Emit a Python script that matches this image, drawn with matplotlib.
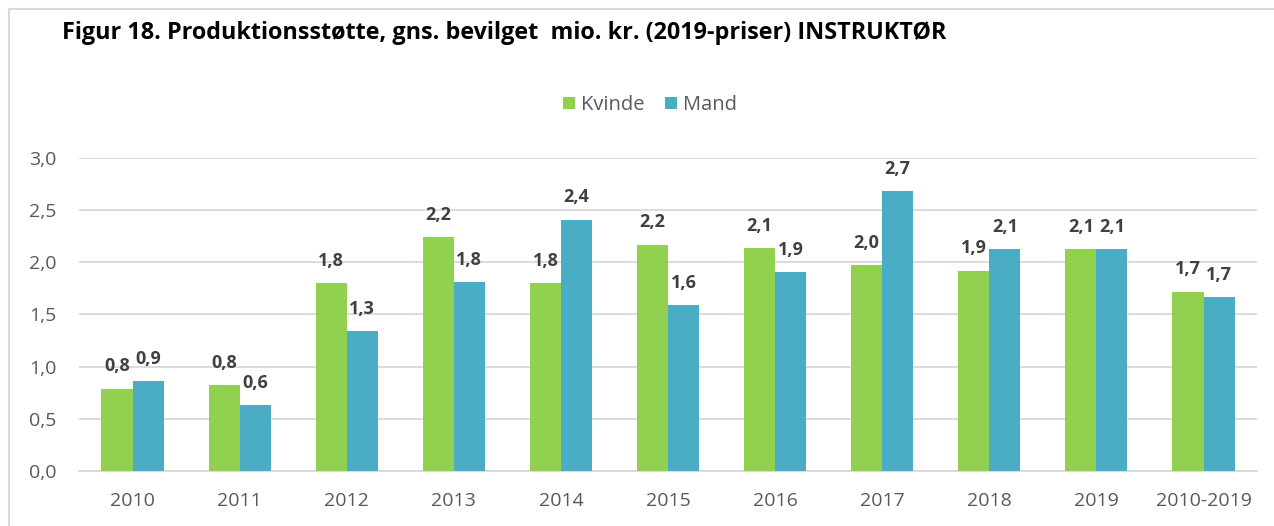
import matplotlib.pyplot as plt
import numpy as np
from matplotlib.patches import Rectangle

# Data
kategorier = ['2010', '2011', '2012', '2013', '2014', '2015', '2016', '2017', '2018', '2019', '2010-2019']
kvinde = [0.79, 0.82, 1.80, 2.24, 1.80, 2.17, 2.14, 1.97, 1.92, 2.13, 1.72]
mand = [0.86, 0.63, 1.34, 1.81, 2.41, 1.59, 1.91, 2.68, 2.13, 2.13, 1.67]
y_ticks = [0, 0.5, 1.0, 1.5, 2.0, 2.5, 3.0]

plt.rcParams['font.family'] = ['Open Sans', 'DejaVu Sans']

fig = plt.figure(figsize=(12.74, 5.26), dpi=100)
ax = fig.add_axes([0.062, 0.1046, 0.9247, 0.595])

# Ramme om figuren
fig.patches.append(Rectangle((9 / 1274, -0.1), 1.2, (526 - 9) / 526 + 0.1,
                             transform=fig.transFigure, fill=False,
                             edgecolor='#D9D9D9', linewidth=1.5))

x = np.arange(len(kategorier))
b = 0.29
bars_k = ax.bar(x - b / 2, kvinde, b, color='#92D050', label='Kvinde', zorder=3)
bars_m = ax.bar(x + b / 2, mand, b, color='#4BACC6', label='Mand', zorder=3)

# Datalabels
for bars in (bars_k, bars_m):
    for r in bars:
        v = r.get_height()
        ax.annotate(f"{v:.1f}".replace('.', ','),
                    (r.get_x() + r.get_width() / 2, v),
                    xytext=(0, 16), textcoords='offset points',
                    ha='center', va='center', fontsize=13,
                    fontweight='bold', color='#404040')

ax.set_xlim(-0.5, len(kategorier) - 0.5)
ax.set_ylim(0, 3.0)
ax.set_yticks(y_ticks)
ax.set_yticklabels([f"{t:.1f}".replace('.', ',') for t in y_ticks])
ax.set_xticks(x)
ax.set_xticklabels(kategorier)
ax.tick_params(axis='both', length=0, labelsize=14, labelcolor='#595959')
ax.tick_params(axis='x', pad=15)
ax.tick_params(axis='y', pad=16)

ax.grid(axis='y', color='#D9D9D9', linewidth=1.3, zorder=0)
for s in ['top', 'right', 'left']:
    ax.spines[s].set_visible(False)
ax.spines['bottom'].set_color('#D9D9D9')
ax.spines['bottom'].set_linewidth(1.3)

fig.text(62 / 1274, 1 - 33 / 526,
         'Figur 18. Produktionsstøtte, gns. bevilget  mio. kr. (2019-priser) INSTRUKTØR',
         fontsize=16.8, fontweight='bold', va='center', ha='left', color='black')

fig.legend(handles=[bars_k, bars_m], labels=['Kvinde', 'Mand'],
           loc='center', bbox_to_anchor=(650 / 1274, 1 - 105 / 526), ncol=2,
           frameon=False, fontsize=14.5, labelcolor='#595959',
           handlelength=0.6, handleheight=0.6, handletextpad=0.3, columnspacing=1.0)

plt.savefig('out.png', dpi=100)
